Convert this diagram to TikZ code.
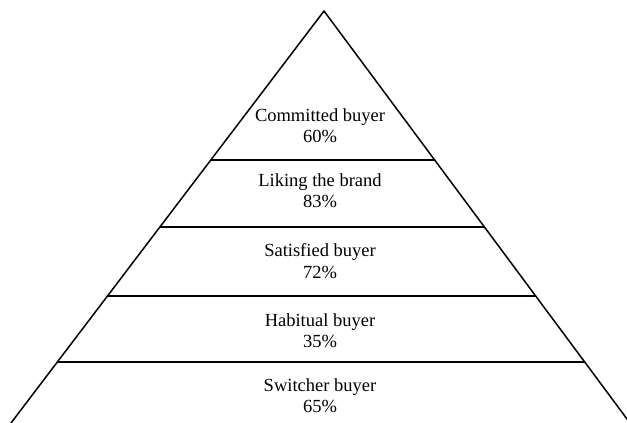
\documentclass[tikz,border=0pt]{standalone}
\usepackage{fontspec}
\setmainfont{Liberation Serif}
\usetikzlibrary{calc}
\newcommand{\tierfont}{\fontsize{18.5}{21.5}\selectfont}
\begin{document}
\begin{tikzpicture}[line cap=round, line join=round, x=1pt, y=-1pt,
        tier/.style={align=center, inner sep=0pt, font=\tierfont}]

                \useasboundingbox (0,0) rectangle (627,423);
                \clip (0,0) rectangle (627,423);

                \coordinate (apex) at (324,11);
                \coordinate (bl) at (11,423);
                \coordinate (br) at (630,423);

                \draw[line width=1.5pt] (bl) -- (apex) -- (br);

                \draw[line width=1.5pt] ($(apex)!0.3617!(bl)$) -- ($(apex)!0.3617!(br)$);
                \draw[line width=1.5pt] ($(apex)!0.5243!(bl)$) -- ($(apex)!0.5243!(br)$);
                \draw[line width=1.5pt] ($(apex)!0.6917!(bl)$) -- ($(apex)!0.6917!(br)$);
                \draw[line width=1.5pt] ($(apex)!0.8519!(bl)$) -- ($(apex)!0.8519!(br)$);

                \node[tier] (committed) at (320,125.5) {Committed buyer\\60\%};
                \node[tier] (liking) at (320,190.5) {Liking the brand\\83\%};
                \node[tier] (satisfied) at (320,261) {Satisfied buyer\\72\%};
                \node[tier] (habitual) at (320,330.5) {Habitual buyer\\35\%};
                \node[tier] (switcher) at (320,395.5) {Switcher buyer\\65\%};

            \end{tikzpicture}
\end{document}
